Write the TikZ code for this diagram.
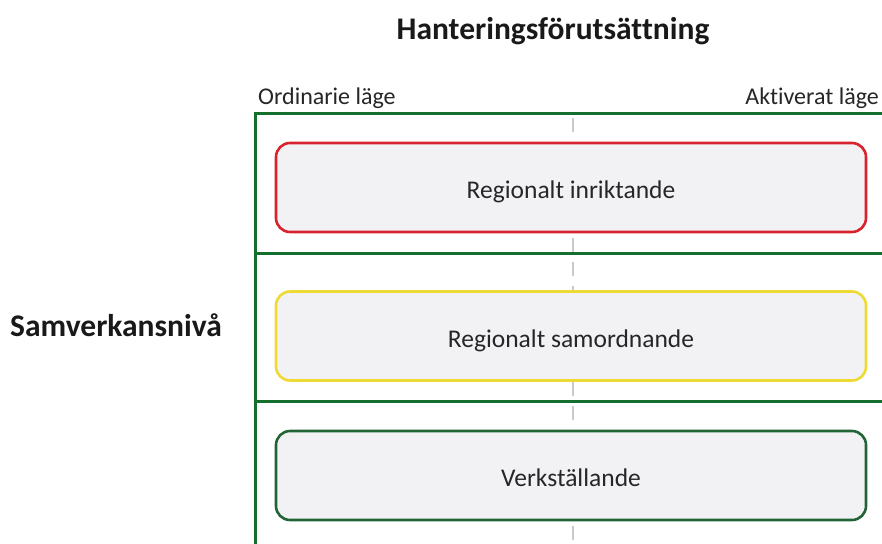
\documentclass[tikz,border=0pt]{standalone}
\usepackage{fontspec}
\setmainfont[Ligatures={NoCommon}]{Carlito}
\definecolor{framegreen}{RGB}{20,110,45}
\definecolor{boxred}{RGB}{215,35,45}
\definecolor{boxyellow}{RGB}{238,218,50}
\definecolor{boxgreen}{RGB}{35,100,55}
\definecolor{boxfill}{RGB}{242,242,245}
\definecolor{dashgray}{RGB}{200,200,205}
\tikzset{
  level/.style={draw=#1, line width=2.6pt, fill=boxfill, rounded corners=14pt,
    minimum width=590pt, minimum height=89pt, inner sep=0pt,
    text height=22pt, text depth=0pt,
    font=\fontsize{25.5}{30}\selectfont, text=black!85},
  frameline/.style={draw=framegreen, line width=3pt},
  heading/.style={font=\bfseries\fontsize{31.5}{36}\selectfont, text=black!90},
  corner/.style={font=\fontsize{24}{28}\selectfont, text=black!85}
}
\begin{document}
\begin{tikzpicture}[x=1pt,y=-1pt]
\useasboundingbox (0,0) rectangle (882,543);
% dashed centre line
\draw[dashgray, line width=1.2pt, dash pattern=on 14pt off 10pt] (573,118) -- (573,543);
% frame
\coordinate (ftl) at (255,113);
\coordinate (ftr) at (884,113);
\coordinate (fbl) at (255,545);
\coordinate (m1l) at (255,253);
\coordinate (m1r) at (884,253);
\coordinate (m2l) at (255,401);
\coordinate (m2r) at (884,401);
\draw[frameline] (fbl) -- (ftl) -- (ftr);
\draw[frameline] (m1l) -- (m1r);
\draw[frameline] (m2l) -- (m2r);
% boxes
\node[level=boxred]    (inr) at (571,187.5) {Regionalt inriktande};
\node[level=boxyellow] (sam) at (571,336)   {Regionalt samordnande};
\node[level=boxgreen]  (ver) at (571,475.5) {Verkställande};
% texts
\node[heading] (title) at (553,31) {Hanteringsförutsättning};
\node[heading] (niva) at (116,325) {Samverkansnivå};
\node[corner, anchor=base west, inner sep=0pt] (ord) at (258,104) {Ordinarie läge};
\node[corner, anchor=base east, inner sep=0pt] (akt) at (879,104) {Aktiverat läge};
\end{tikzpicture}
\end{document}
